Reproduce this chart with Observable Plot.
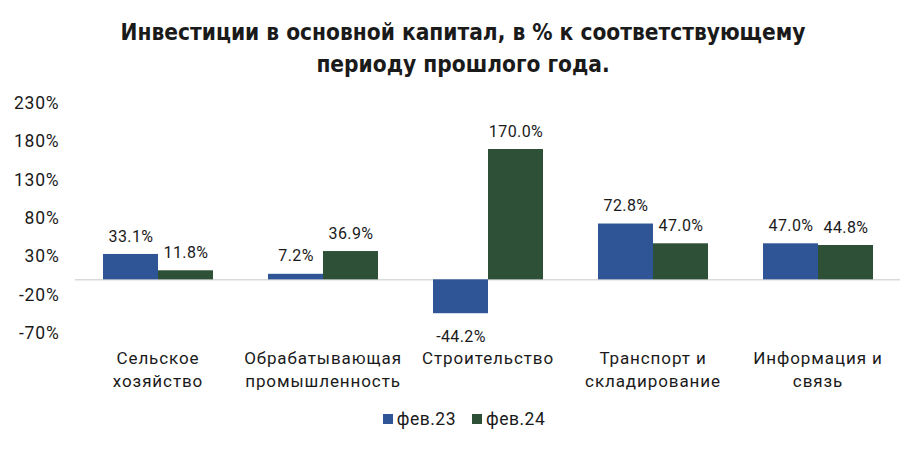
<!DOCTYPE html>
<html>
<head>
<meta charset="utf-8">
<script src="https://cdn.jsdelivr.net/npm/d3@7"></script>
<script src="https://cdn.jsdelivr.net/npm/@observablehq/plot@0.6"></script>
<style>
  html, body { margin: 0; padding: 0; background: #fff; }
  #wrap { width: 924px; height: 450px; position: relative; font-family: Roboto, "DejaVu Sans", sans-serif; color: #1a1a1a; }
  #title { height: 90px; box-sizing: border-box; padding-top: 16px; text-align: center; font-family: "Liberation Sans Narrow", "DejaVu Sans Condensed", sans-serif; font-weight: bold; font-size: 22.5px; line-height: 32px; color: #1a1a1a; padding-left: 2px; }
  #chart svg { display: block; }
  #chart g[aria-label="fx-axis tick label"] text { letter-spacing: 0.9px; }
  #chart g[aria-label="y-axis tick label"] text { letter-spacing: 0.8px; }
  #chart g[aria-label="text"] text { letter-spacing: 0.4px; }
  #legend { display: flex; justify-content: center; gap: 16px; font-size: 17.5px; letter-spacing: 0.5px; margin-top: 9px; padding-left: 4px; }
  .item { display: flex; align-items: center; gap: 4px; }
  .sw { width: 10px; height: 10px; display: inline-block; }
</style>
</head>
<body>
<div id="wrap">
  <div id="title">Инвестиции в основной капитал, в % к соответствующему<br>периоду прошлого года.</div>
  <div id="chart"></div>
  <div id="legend"></div>
</div>
<script>
const categories = ["Сельское хозяйство", "Обрабатывающая промышленность", "Строительство", "Транспорт и складирование", "Информация и связь"];
const categoryLabels = ["Сельское\nхозяйство", "Обрабатывающая\nпромышленность", "Строительство", "Транспорт и\nскладирование", "Информация и\nсвязь"];
const series = ["фев.23", "фев.24"];
const feb23 = [33.1, 7.2, -44.2, 72.8, 47.0];
const feb24 = [11.8, 36.9, 170.0, 47.0, 44.8];
const yTicks = [-70, -20, 30, 80, 130, 180, 230];
const colors = ["#2f5597", "#2e5037"];

const rows = [];
categories.forEach((c, i) => {
  rows.push({cat: c, series: series[0], value: feb23[i]});
  rows.push({cat: c, series: series[1], value: feb24[i]});
});
const labelOf = new Map(categories.map((c, i) => [c, categoryLabels[i]]));
const fmt = d => d.toFixed(1) + "%";

const chart = Plot.plot({
  width: 924,
  height: 310,
  marginLeft: 73,
  marginRight: 23,
  marginTop: 13,
  marginBottom: 67,
  style: {fontFamily: "Roboto, 'DejaVu Sans', sans-serif", color: "#1a1a1a", background: "#fff"},
  fx: {domain: categories, padding: 0, axis: null, label: null},
  x: {domain: series, paddingInner: 0, paddingOuter: 0.5, axis: null},
  y: {domain: [-70, 230], label: null},
  color: {domain: series, range: colors},
  marks: [
    Plot.axisY({ticks: yTicks, tickSize: 0, tickPadding: 16, fontSize: 17.5, tickFormat: d => d + "%", label: null}),
    Plot.ruleY([0], {stroke: "#d9d9d9", strokeWidth: 1.5}),
    Plot.barY(rows, {fx: "cat", x: "series", y: "value", fill: "series"}),
    Plot.text(rows.filter(d => d.value >= 0), {fx: "cat", x: "series", y: "value", text: d => fmt(d.value), dy: -18, fontSize: 16, fill: "#1a1a1a"}),
    Plot.text(rows.filter(d => d.value < 0), {fx: "cat", x: "series", y: "value", text: d => fmt(d.value), dy: 23, fontSize: 16, fill: "#1a1a1a"}),
    Plot.axisFx({anchor: "bottom", tickSize: 0, tickPadding: 14, fontSize: 17, lineHeight: 1.36, tickFormat: d => labelOf.get(d), label: null})
  ]
});
document.getElementById("chart").appendChild(chart);

const legend = document.getElementById("legend");
series.forEach((s, i) => {
  const item = document.createElement("div");
  item.className = "item";
  const sw = document.createElement("span");
  sw.className = "sw";
  sw.style.background = colors[i];
  const t = document.createElement("span");
  t.textContent = s;
  item.appendChild(sw);
  item.appendChild(t);
  legend.appendChild(item);
});
</script>
</body>
</html>
